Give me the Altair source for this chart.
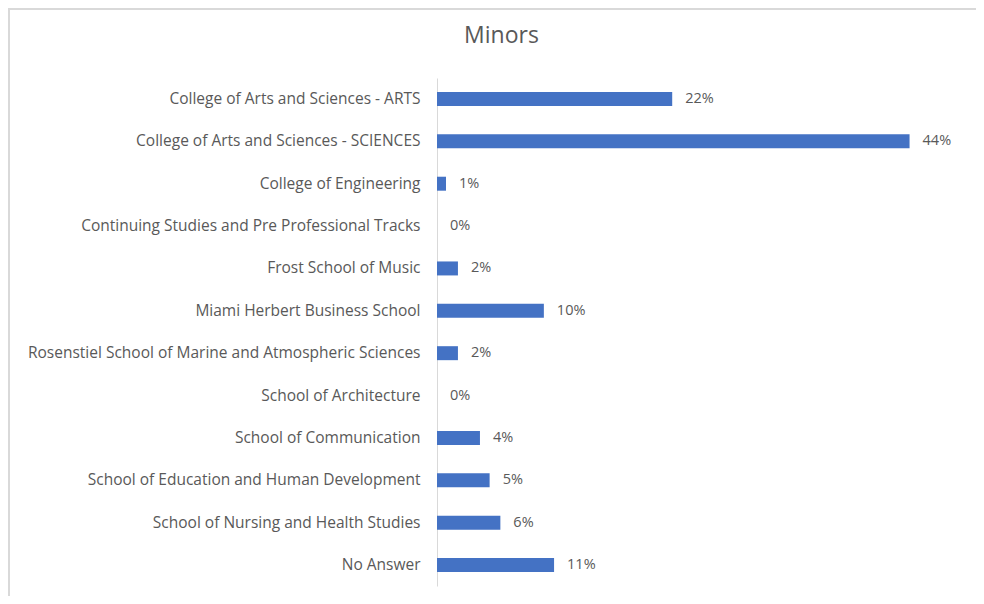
import altair as alt
import pandas as pd

categories = [
    "College of Arts and Sciences - ARTS",
    "College of Arts and Sciences - SCIENCES",
    "College of Engineering",
    "Continuing Studies and Pre Professional Tracks",
    "Frost School of Music",
    "Miami Herbert Business School",
    "Rosenstiel School of Marine and Atmospheric Sciences",
    "School of Architecture",
    "School of Communication",
    "School of Education and Human Development",
    "School of Nursing and Health Studies",
    "No Answer",
]
values = [0.219, 0.44, 0.0084, 0.0, 0.0195, 0.0995, 0.0195, 0.0, 0.040, 0.049, 0.059, 0.109]

df = pd.DataFrame({"category": categories, "value": values})

FONT = "Open Sans"
GREY = "#595959"
FRAME = "#d9d9d9"

y_enc = alt.Y(
    "category:N",
    sort=categories,
    scale=alt.Scale(paddingInner=0.67, paddingOuter=0.33),
    axis=alt.Axis(
        title=None,
        ticks=False,
        domainColor=FRAME,
        domainWidth=1,
        labelFont=FONT,
        labelFontSize=15.5,
        labelColor=GREY,
        labelPadding=17,
        labelLimit=600,
    ),
)
x_enc = alt.X("value:Q", scale=alt.Scale(domain=[0, 0.5]), axis=None)

base = alt.Chart(df)
bars = base.mark_bar(color="#4472C4").encode(y=y_enc, x=x_enc)
labels = base.mark_text(align="left", dx=13, font=FONT, fontSize=14.5, color=GREY).encode(
    y=y_enc, x=x_enc, text=alt.Text("value:Q", format=".0%")
)
one = pd.DataFrame({"a": [1]})
top_edge = alt.Chart(one).mark_rule(stroke=FRAME, strokeWidth=2).encode(
    x=alt.value(-429), x2=alt.value(539), y=alt.value(-69)
)
left_edge = alt.Chart(one).mark_rule(stroke=FRAME, strokeWidth=2).encode(
    x=alt.value(-428), y=alt.value(-70), y2=alt.value(518)
)

chart = alt.layer(top_edge, left_edge, bars, labels).properties(
    width=537,
    height=508,
    padding={"left": 429, "top": 70, "right": 2, "bottom": 10},
    autosize=alt.AutoSizeParams(type="none"),
    title=alt.TitleParams(
        "Minors", font=FONT, fontSize=23, fontWeight="normal", color=GREY,
        anchor="middle", dx=-204, offset=-41,
    ),
).configure_view(stroke=None)

chart.save("out.html", embed_options={"renderer": "svg", "actions": False})
